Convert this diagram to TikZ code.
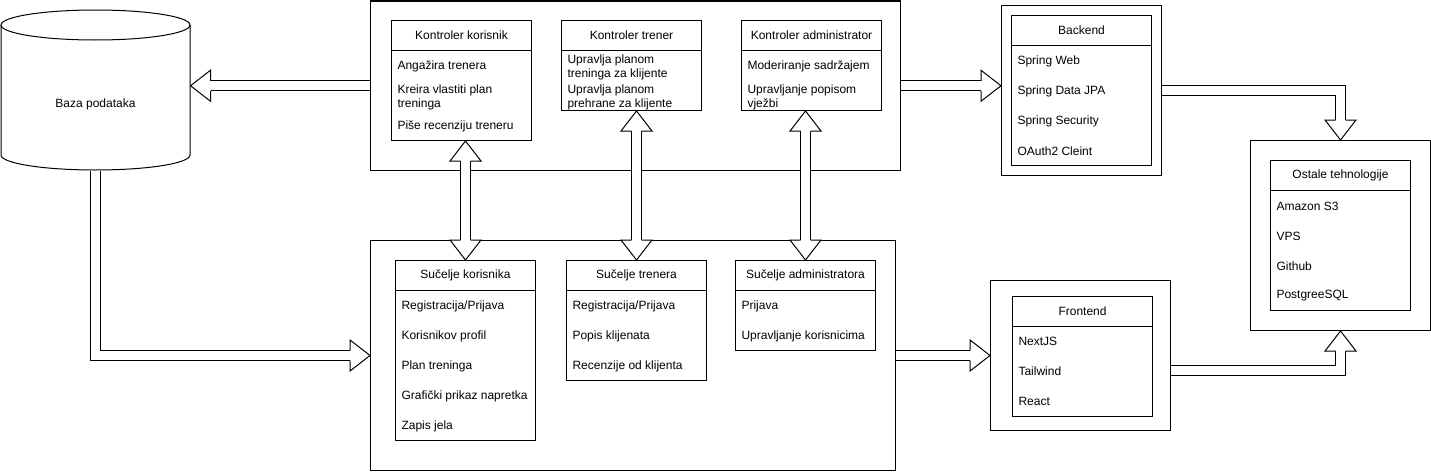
\documentclass[tikz,border=0pt]{standalone}
\usepackage{fontspec}
\setmainfont{Liberation Sans}
\usetikzlibrary{calc}
\tikzset{
    frame/.style={draw, inner sep=0pt, anchor=north west},
    hdr/.style={inner sep=0pt, font=\fontsize{12}{14}\selectfont},
    entry/.style={anchor=west, inner sep=0pt, align=left,
                  font=\fontsize{12}{14}\selectfont},
    pipeout/.style={line width=11pt, line join=miter},
    pipein/.style={line width=9pt, line join=miter, white},
}
% hollow block arrows: outline shaft + white core, then an open head
\newcommand{\pipe}[2][]{\draw[pipeout,#1] #2; \draw[pipein,#1] #2;}
\newcommand{\bhead}[2]{\filldraw[fill=white, line join=miter, shift={#1}, rotate=#2]
    (-20,-5) -- (-20,-15.5) -- (0,0) -- (-20,15.5) -- (-20,5);}

\begin{document}
\begin{tikzpicture}[x=1pt, y=-1pt, line width=1pt]
    \useasboundingbox (0,0) rectangle (1431,471);

    % database
    \node[minimum width=189pt, minimum height=160pt, inner sep=0pt] (db) at (95.5,90) {};
    \draw (1,25) -- (1,155) arc[start angle=180, end angle=0, x radius=94.5, y radius=15] -- (190,25);
    \draw (95.5,25) ellipse[x radius=94.5, y radius=15];
    \node[hdr] (db-t) at (95.5,104) {Baza podataka};

    % controllers
    \node[frame, minimum width=530pt, minimum height=169.5pt] (ctrl) at (370,0.5) {};
    \node[frame, minimum width=140pt, minimum height=120pt] (kkor) at (391,20) {};
    \node[frame, minimum width=140pt, minimum height=90pt] (ktr) at (561,20) {};
    \node[frame, minimum width=140pt, minimum height=90pt] (kadm) at (741,20) {};
    \foreach \b in {kkor,ktr,kadm}
        \draw ([yshift=-30pt]\b.north west) -- ([yshift=-30pt]\b.north east);
    \node[hdr] (kkor-t) at ([yshift=-15pt]kkor.north) {Kontroler korisnik};
    \node[hdr] (ktr-t) at ([yshift=-15pt]ktr.north) {Kontroler trener};
    \node[hdr] (kadm-t) at ([yshift=-15pt]kadm.north) {Kontroler administrator};
    \node[entry] (kkor-1) at ([xshift=6pt, yshift=-46pt]kkor.north west) {Angažira trenera};
    \node[entry] (kkor-2) at ([xshift=6pt, yshift=-77pt]kkor.north west) {Kreira vlastiti plan\\treninga};
    \node[entry] (kkor-3) at ([xshift=6pt, yshift=-106pt]kkor.north west) {Piše recenziju treneru};
    \node[entry] (ktr-1) at ([xshift=6pt, yshift=-47pt]ktr.north west) {Upravlja planom\\treninga za klijente};
    \node[entry] (ktr-2) at ([xshift=6pt, yshift=-77pt]ktr.north west) {Upravlja planom\\prehrane za klijente};
    \node[entry] (kadm-1) at ([xshift=6pt, yshift=-46pt]kadm.north west) {Moderiranje sadržajem};
    \node[entry] (kadm-2) at ([xshift=6pt, yshift=-77pt]kadm.north west) {Upravljanje popisom\\vježbi};

    % interfaces
    \node[frame, minimum width=525pt, minimum height=230pt] (ui) at (370,240) {};
    \node[frame, minimum width=140pt, minimum height=180pt] (skor) at (395,260) {};
    \node[frame, minimum width=140pt, minimum height=120pt] (str) at (566,260) {};
    \node[frame, minimum width=140pt, minimum height=90pt] (sadm) at (735,260) {};
    \foreach \b in {skor,str,sadm}
        \draw ([yshift=-30pt]\b.north west) -- ([yshift=-30pt]\b.north east);
    \node[hdr] (skor-t) at ([yshift=-15pt]skor.north) {Sučelje korisnika};
    \node[hdr] (str-t) at ([yshift=-15pt]str.north) {Sučelje trenera};
    \node[hdr] (sadm-t) at ([yshift=-15pt]sadm.north) {Sučelje administratora};
    \foreach \t [count=\i] in {Registracija/Prijava, Korisnikov profil, Plan treninga,
                               Grafički prikaz napretka, Zapis jela}
        \node[entry] (skor-\i) at ([xshift=6pt, yshift={-16pt-30pt*\i}]skor.north west) {\t};
    \foreach \t [count=\i] in {Registracija/Prijava, Popis klijenata, Recenzije od klijenta}
        \node[entry] (str-\i) at ([xshift=6pt, yshift={-16pt-30pt*\i}]str.north west) {\t};
    \foreach \t [count=\i] in {Prijava, Upravljanje korisnicima}
        \node[entry] (sadm-\i) at ([xshift=6pt, yshift={-16pt-30pt*\i}]sadm.north west) {\t};

    % backend
    \node[frame, minimum width=160pt, minimum height=170pt] (be) at (1001,5) {};
    \node[frame, minimum width=140pt, minimum height=150pt] (be-in) at (1011,15) {};
    \draw ([yshift=-30pt]be-in.north west) -- ([yshift=-30pt]be-in.north east);
    \node[hdr] (be-t) at ([yshift=-15pt]be-in.north) {Backend};
    \foreach \t [count=\i] in {Spring Web, Spring Data JPA, Spring Security, OAuth2 Cleint}
        \node[entry] (be-\i) at ([xshift=6pt, yshift={-16pt-30pt*\i}]be-in.north west) {\t};

    % other technologies
    \node[frame, minimum width=180pt, minimum height=190pt] (ot) at (1250,140) {};
    \node[frame, minimum width=140pt, minimum height=150pt] (ot-in) at (1270,160) {};
    \draw ([yshift=-30pt]ot-in.north west) -- ([yshift=-30pt]ot-in.north east);
    \node[hdr] (ot-t) at ([yshift=-15pt]ot-in.north) {Ostale tehnologije};
    \foreach \t [count=\i] in {Amazon S3, VPS, Github, PostgreeSQL}
        \node[entry] (ot-\i) at ([xshift=6pt, yshift={-16pt-30pt*\i}]ot-in.north west) {\t};

    % frontend
    \node[frame, minimum width=180pt, minimum height=150pt] (fe) at (990,280) {};
    \node[frame, minimum width=140pt, minimum height=120pt] (fe-in) at (1012,296) {};
    \draw ([yshift=-30pt]fe-in.north west) -- ([yshift=-30pt]fe-in.north east);
    \node[hdr] (fe-t) at ([yshift=-15pt]fe-in.north) {Frontend};
    \foreach \t [count=\i] in {NextJS, Tailwind, React}
        \node[entry] (fe-\i) at ([xshift=6pt, yshift={-15pt-30pt*\i}]fe-in.north west) {\t};

    % block arrows
    \pipe[shorten >=20pt]{(ctrl.west) -- (db.east |- ctrl.west)}
    \bhead{(db.east |- ctrl.west)}{180}
    \pipe[shorten >=20pt]{(ctrl.east) -- (ctrl.east -| be.west)}
    \bhead{(ctrl.east -| be.west)}{0}
    \pipe[shorten >=20pt]{(db.south) |- (ui.west)}
    \bhead{(ui.west)}{0}
    \pipe[shorten >=20pt]{(ui.east) -- (fe.west)}
    \bhead{(fe.west)}{0}
    \pipe[shorten >=20pt]{(be.east) -| (ot.north)}
    \bhead{(ot.north)}{-90}
    \pipe[shorten >=20pt]{([yshift=-15pt]fe.east) -| (ot.south)}
    \bhead{(ot.south)}{90}
    \foreach \k/\s in {kkor/skor, ktr/str, kadm/sadm} {
        \pipe[shorten >=20pt, shorten <=20pt]{(\s.north |- \k.south) -- (\s.north)}
        \bhead{(\s.north |- \k.south)}{90}
        \bhead{(\s.north)}{-90}
    }
\end{tikzpicture}
\end{document}
